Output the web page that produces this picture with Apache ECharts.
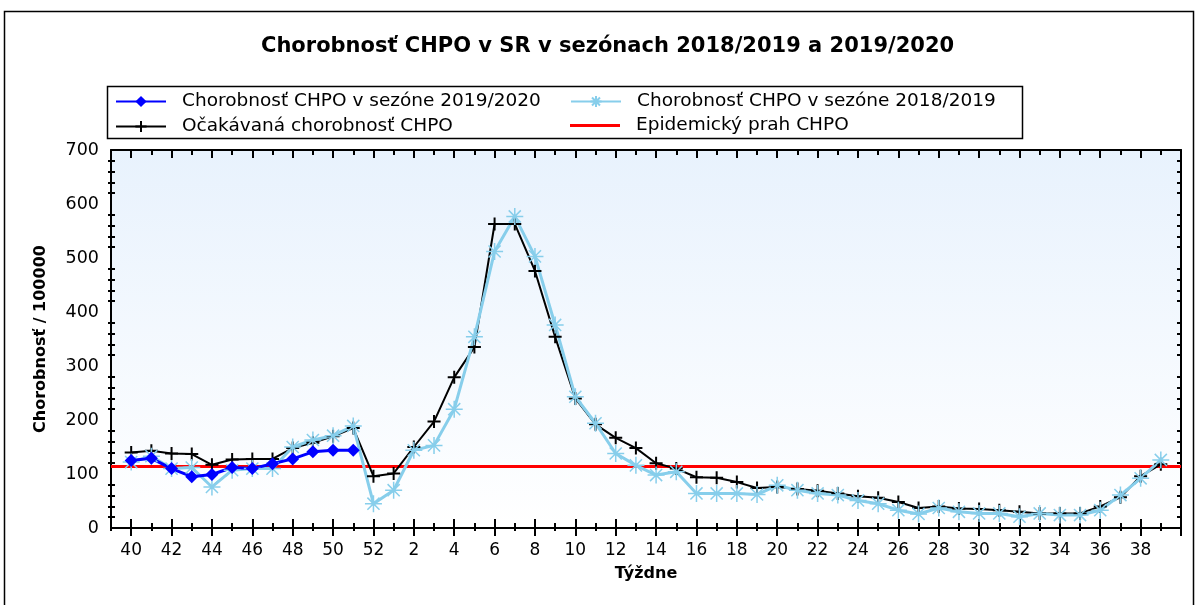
<html lang="sk">
<head>
<meta charset="UTF-8" />
<title>Chorobnosť CHPO</title>
<script src="https://cdn.jsdelivr.net/npm/echarts@6.0.0/dist/echarts.min.js"></script>
<style>
  * { padding: 0; margin: 0; }
  body { background: #fff; }
</style>
</head>
<body>
<div id="main" style="width:1198px;height:605px"></div>
<script>
// týždne sezóny (40..52, 1..39)
var weeks = ["40","41","42","43","44","45","46","47","48","49","50","51","52",
  "1","2","3","4","5","6","7","8","9","10","11","12","13","14","15","16","17","18","19",
  "20","21","22","23","24","25","26","27","28","29","30","31","32","33","34","35","36","37","38","39"]

// sezóna 2019/2020 (zatiaľ do 51. týždňa)
var season1920 = [125, 129, 110, 95, 99, 112, 110, 119, 128, 141, 144, 144]

// sezóna 2018/2019
var season1819 = [122, 133, 110, 112, 76, 107, 110, 110, 150, 163, 171, 189, 45,
  70, 144, 153, 220, 354, 512, 577, 503, 376, 243, 194, 138, 116, 98, 104, 64, 64, 64, 62,
  79, 70, 64, 61, 51, 45, 33, 26, 37, 30, 27, 27, 21, 27, 24, 24, 33, 61, 92, 126]

// očakávaná chorobnosť
var expected = [140, 143, 138, 137, 117, 127, 128, 128, 148, 158, 170, 185, 96,
  101, 150, 197, 279, 335, 563, 563, 476, 354, 240, 192, 167, 148, 120, 110, 94, 93, 85, 74,
  76, 72, 69, 64, 59, 56, 48, 37, 40, 36, 35, 33, 30, 27, 27, 27, 40, 57, 96, 118]

var threshold = 114

var names = [
  "Chorobnosť CHPO v sezóne 2019/2020",
  "Chorobnosť CHPO v sezóne 2018/2019",
  "Očakávaná chorobnosť CHPO",
  "Epidemický prah CHPO"
]

// kategórie: prázdny okraj vľavo aj vpravo
var cats = [""].concat(weeks, [""])
function pts(arr) {
  return arr.map(function (v, i) { return [i + 1, v] })
}
function major(i) { return i % 2 == 1 }

var font = "DejaVu Sans, Verdana, sans-serif"
var starPath = "path://M8,0L8,16M0,8L16,8M2.3,2.3L13.7,13.7M2.3,13.7L13.7,2.3"
var plusPath = "path://M6,0L6,12M0,6L12,6"

function xAx(o) {
  var base = {
    type: "category", data: cats, boundaryGap: false, position: "bottom",
    axisLine: { show: false }, axisLabel: { show: false },
    axisTick: { lineStyle: { color: "#000", width: 2 } },
    splitLine: { show: false }
  }
  for (var k in o) base[k] = o[k]
  return base
}
function yAx(o) {
  var base = {
    type: "value", min: 0, max: 700, interval: 100, position: "left",
    axisLine: { show: false }, axisLabel: { show: false },
    axisTick: { lineStyle: { color: "#000", width: 2 } },
    minorTick: { show: true, splitNumber: 5, length: 3, lineStyle: { color: "#000", width: 2 } },
    splitLine: { show: false }, minorSplitLine: { show: false }
  }
  for (var k in o) base[k] = o[k]
  return base
}

function leg(name, left, top, extra) {
  var l = {
    data: [name], left: left, top: top, padding: 0,
    itemWidth: 50, itemHeight: 14, selectedMode: false,
    textStyle: { fontSize: 18.5, fontFamily: font, color: "#000", padding: [0, 0, 0, 11] }
  }
  for (var k in extra) l[k] = extra[k]
  return l
}

var chart = echarts.init(document.getElementById("main"))
var option = {
  animation: false,
  backgroundColor: "#fff",
  textStyle: { fontFamily: font },
  title: {
    text: "Chorobnosť CHPO v SR v sezónach 2018/2019 a 2019/2020",
    left: 256, top: 31,
    textStyle: { fontSize: 21, fontWeight: "bold", color: "#000", fontFamily: font }
  },
  graphic: [
    { type: "rect", shape: { x: 4.5, y: 11.5, width: 1189, height: 610 },
      style: { fill: "none", stroke: "#000", lineWidth: 1.5 }, silent: true },
    { type: "rect", shape: { x: 107.5, y: 86.5, width: 915, height: 52 },
      style: { fill: "none", stroke: "#000", lineWidth: 1.5 }, silent: true }
  ],
  legend: [
    leg(names[0], 115, 92),
    leg(names[1], 570, 92),
    leg(names[2], 115, 117),
    leg({ name: names[3], icon: "rect" }, 570, 116, { itemHeight: 3 })
  ],
  grid: {
    left: 111, right: 17, top: 150, bottom: 77,
    show: true, borderWidth: 0,
    backgroundColor: {
      type: "linear", x: 0, y: 0, x2: 0, y2: 1,
      colorStops: [{ offset: 0, color: "#e8f2fd" }, { offset: 1, color: "#ffffff" }]
    }
  },
  xAxis: [
    xAx({
      axisLine: { show: true, lineStyle: { color: "#000", width: 2 } },
      axisTick: { interval: major, length: 8, lineStyle: { color: "#000", width: 2 } },
      axisLabel: { show: true, interval: major, margin: 14, fontSize: 17, color: "#000" },
      name: "Týždne", nameLocation: "middle", nameGap: 38,
      nameTextStyle: { fontSize: 16, fontWeight: "bold", color: "#000" }
    }),
    xAx({ axisTick: { inside: true, interval: major, length: 9, lineStyle: { color: "#000", width: 2 } } }),
    xAx({ axisTick: { interval: 0, length: 3, lineStyle: { color: "#000", width: 2 } } }),
    xAx({ axisTick: { inside: true, interval: 0, length: 5, lineStyle: { color: "#000", width: 2 } } }),
    xAx({ position: "top",
      axisLine: { show: true, lineStyle: { color: "#000", width: 2 } },
      axisTick: { inside: true, interval: major, length: 8, lineStyle: { color: "#000", width: 2 } } }),
    xAx({ position: "top",
      axisTick: { inside: true, interval: 0, length: 5, lineStyle: { color: "#000", width: 2 } } })
  ],
  yAxis: [
    yAx({
      axisLine: { show: true, lineStyle: { color: "#000", width: 2 } },
      axisTick: { length: 7, lineStyle: { color: "#000", width: 2 } },
      axisLabel: { show: true, margin: 12, fontSize: 17.5, color: "#000" },
      name: "Chorobnosť / 100000", nameLocation: "middle", nameGap: 62,
      nameTextStyle: { fontSize: 16, fontWeight: "bold", color: "#000" }
    }),
    yAx({ axisTick: { inside: true, length: 7, lineStyle: { color: "#000", width: 2 } },
      minorTick: { show: true, splitNumber: 5, length: 4, lineStyle: { color: "#000", width: 2 } } }),
    yAx({ position: "right",
      axisLine: { show: true, lineStyle: { color: "#000", width: 2 } },
      axisTick: { inside: true, length: 8, lineStyle: { color: "#000", width: 2 } },
      minorTick: { show: true, splitNumber: 5, length: 4, lineStyle: { color: "#000", width: 2 } } })
  ],
  series: [
    {
      name: names[3], type: "line", symbol: "none",
      lineStyle: { color: "#ff0000", width: 3 }, itemStyle: { color: "#ff0000" },
      data: [[0, threshold], [cats.length - 1, threshold]]
    },
    {
      name: names[2], type: "line", symbol: plusPath, symbolSize: 13, showAllSymbol: true,
      lineStyle: { color: "#000", width: 2 },
      itemStyle: { color: "#000", borderColor: "#000", borderWidth: 2 },
      data: pts(expected)
    },
    {
      name: names[1], type: "line", symbol: starPath, symbolSize: 17, showAllSymbol: true,
      lineStyle: { color: "#87ceeb", width: 3 },
      itemStyle: { color: "#87ceeb", borderColor: "#87ceeb", borderWidth: 1.5 },
      data: pts(season1819)
    },
    {
      name: names[0], type: "line", symbol: "diamond", symbolSize: 13, showAllSymbol: true,
      lineStyle: { color: "#0000ff", width: 3 },
      itemStyle: { color: "#0000ff" },
      data: pts(season1920)
    }
  ]
}
chart.setOption(option)
</script>
</body>
</html>
